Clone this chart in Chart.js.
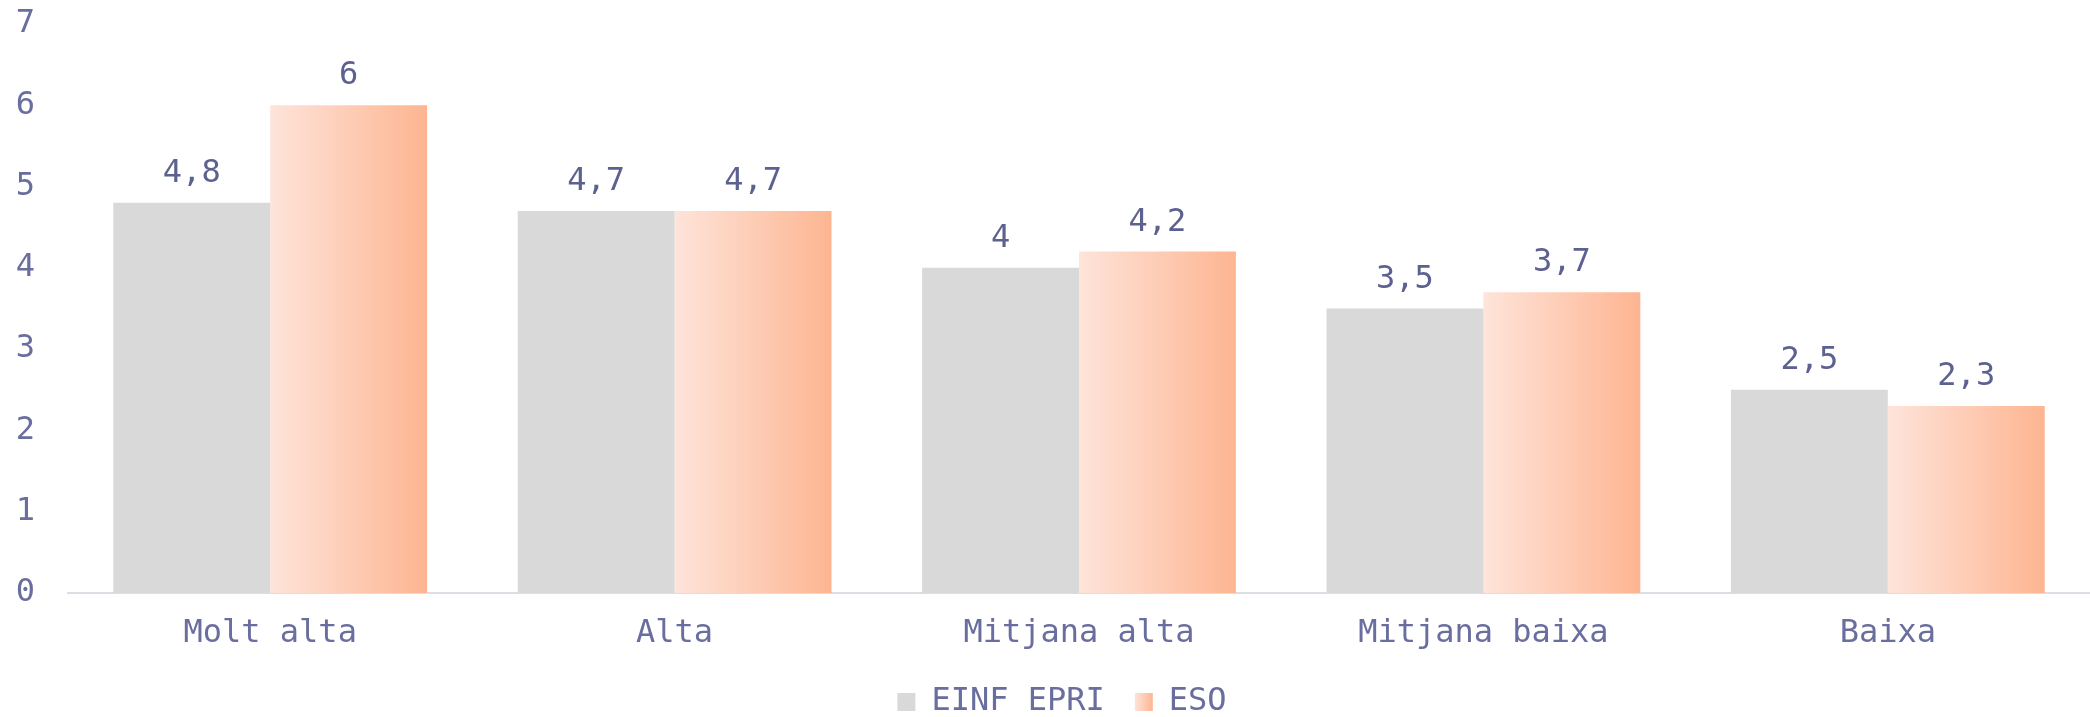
<!DOCTYPE html>
<html>
<head>
<meta charset="utf-8">
<script src="https://cdn.jsdelivr.net/npm/chart.js@4.4.0/dist/chart.umd.min.js"></script>
<style>
  html, body { margin: 0; padding: 0; background: #fff; }
</style>
</head>
<body>
<canvas id="myChart" width="2090" height="717"></canvas>
<script>
var categories = ['Molt alta', 'Alta', 'Mitjana alta', 'Mitjana baixa', 'Baixa'];
var einfEpri = [4.8, 4.7, 4, 3.5, 2.5];
var eso = [6, 4.7, 4.2, 3.7, 2.3];
var yTicks = [0, 1, 2, 3, 4, 5, 6, 7];

var textColor = '#6a6e9e';
var labelColor = '#5d6190';
var monoFont = "'DejaVu Sans Mono', 'Liberation Mono', monospace";

function esoGradient(ctx, left, right) {
    var g = ctx.createLinearGradient(left, 0, right, 0);
    g.addColorStop(0, '#fee4da');
    g.addColorStop(1, '#fdb591');
    return g;
}

// legend row centred at y=702, x labels not clipped by the short axis box
var legendPlace = {
    id: 'legendPlace',
    afterLayout: function(chart) {
        var lg = chart.legend;
        if (lg) {
            var p = lg.options.labels.padding;
            var h = lg.height;
            lg.top = 702 - p - 16;
            lg.bottom = lg.top + h;
            lg.left += 17;
            lg.right += 17;
        }
        var xs = chart.scales.x;
        xs.bottom = chart.height;
    }
};

// paint the ESO bars and legend box with a left-to-right gradient
var gradientPlugin = {
    id: 'gradientFill',
    beforeDraw: function(chart) {
        var legend = chart.legend;
        if (legend && legend.legendHitBoxes && legend.legendItems) {
            var hb = legend.legendHitBoxes[1];
            var bw = legend.options.labels.boxWidth;
            legend.legendItems[1].fillStyle = esoGradient(chart.ctx, hb.left, hb.left + bw);
        }
    },
    beforeDatasetsDraw: function(chart) {
        var meta = chart.getDatasetMeta(1);
        meta.data.forEach(function(bar) {
            var half = bar.width / 2;
            bar.options.backgroundColor = esoGradient(chart.ctx, bar.x - half, bar.x + half);
        });
    }
};

// value labels above each bar, decimal comma
var valueLabels = {
    id: 'valueLabels',
    afterDatasetsDraw: function(chart) {
        var ctx = chart.ctx;
        ctx.save();
        ctx.font = '32px ' + monoFont;
        ctx.fillStyle = labelColor;
        ctx.textAlign = 'center';
        ctx.textBaseline = 'alphabetic';
        chart.data.datasets.forEach(function(ds, di) {
            chart.getDatasetMeta(di).data.forEach(function(bar, i) {
                var txt = String(ds.data[i]).replace('.', ',');
                ctx.fillText(txt, bar.x, bar.y - 21);
            });
        });
        ctx.restore();
    }
};

var ctx = document.getElementById('myChart').getContext('2d');
var chart = new Chart(ctx, {
    type: 'bar',
    data: {
        labels: categories,
        datasets: [{
            label: 'EINF EPRI',
            data: einfEpri,
            backgroundColor: '#d9d9d9',
            borderWidth: 0
        }, {
            label: 'ESO',
            data: eso,
            backgroundColor: function() { return '#fdc9b0'; },
            borderWidth: 0
        }]
    },
    options: {
        responsive: false,
        animation: false,
        categoryPercentage: 0.776,
        barPercentage: 1,
        layout: {
            padding: { top: 24, left: 0, right: 0, bottom: 0 }
        },
        plugins: {
            legend: {
                position: 'bottom',
                labels: {
                    boxWidth: 18,
                    boxHeight: 18,
                    padding: 30,
                    color: textColor,
                    font: { family: monoFont, size: 32 }
                }
            },
            tooltip: { enabled: false }
        },
        scales: {
            x: {
                grid: { display: false, drawTicks: false },
                border: { display: true, color: '#dddde6', width: 2 },
                ticks: {
                    color: textColor,
                    padding: 21,
                    font: { family: monoFont, size: 32 }
                },
                afterFit: function(scale) {
                    var lg = scale.chart.legend;
                    scale.height = 124 - (lg ? lg.height : 0);
                }
            },
            y: {
                min: 0,
                max: 7,
                grid: { display: false, drawTicks: false },
                border: { display: false },
                afterBuildTicks: function(scale) {
                    scale.ticks = yTicks.map(function(v) { return { value: v }; });
                },
                ticks: {
                    color: textColor,
                    padding: 33,
                    font: { family: monoFont, size: 32 }
                },
                afterFit: function(scale) {
                    scale.width = 68;
                    scale.paddingTop = 0;
                    scale.paddingBottom = 0;
                }
            }
        }
    },
    plugins: [legendPlace, gradientPlugin, valueLabels]
});
</script>
</body>
</html>
